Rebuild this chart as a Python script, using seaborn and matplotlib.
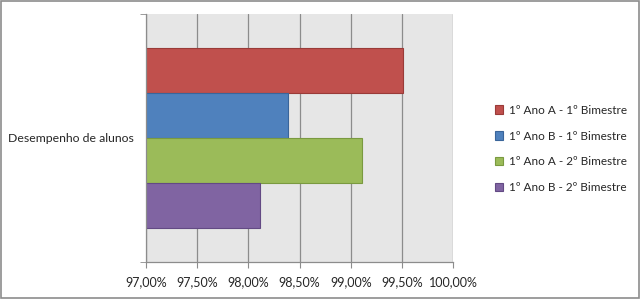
import matplotlib
matplotlib.use("Agg")
import matplotlib.pyplot as plt
import seaborn as sns
import pandas as pd
from matplotlib.ticker import FuncFormatter, FixedLocator
from matplotlib.patches import Rectangle

categories = ["Desempenho de alunos"]
series = ["1º Ano A - 1º Bimestre", "1º Ano B - 1º Bimestre",
          "1º Ano A - 2º Bimestre", "1º Ano B - 2º Bimestre"]
values = [99.51, 98.39, 99.11, 98.11]
colors = ["#C0504D", "#4F81BD", "#9BBB59", "#8064A2"]
edges = ["#9A3B38", "#3A659A", "#7A9A40", "#634A84"]
xticks = [97.0, 97.5, 98.0, 98.5, 99.0, 99.5, 100.0]

df = pd.DataFrame({"cat": categories * len(series), "serie": series, "valor": values})

sns.set_style("white")
plt.rcParams["font.family"] = ["Lato", "DejaVu Sans"]

fig = plt.figure(figsize=(6.4, 2.99), dpi=100)
ax = fig.add_axes([0.228, 0.124, 0.480, 0.829])

sns.barplot(data=df, x="valor", y="cat", hue="serie", hue_order=series,
            palette=colors, saturation=1, orient="h", width=0.73, ax=ax, legend=True)

for patch, ec in zip(ax.patches, edges):
    patch.set_edgecolor(ec)
    patch.set_linewidth(0.8)

ax.set_facecolor("#E6E6E6")
ax.set_xlim(97.0, 100.0)
ax.set_ylim(0.5, -0.5)
ax.xaxis.set_major_locator(FixedLocator(xticks))
ax.xaxis.set_major_formatter(FuncFormatter(lambda v, p: f"{v:.2f}".replace(".", ",") + "%"))
ax.grid(axis="x", color="#8C8C8C", linewidth=0.9)
ax.set_axisbelow(True)
ax.set_xlabel("")
ax.set_ylabel("")

for s in ["top", "right"]:
    ax.spines[s].set_visible(False)
for s in ["left", "bottom"]:
    ax.spines[s].set_color("#8C8C8C")
    ax.spines[s].set_linewidth(0.9)

ax.tick_params(axis="x", direction="out", length=4, color="#8C8C8C", labelsize=9,
               pad=6, bottom=True)
ax.tick_params(axis="y", length=0, labelsize=8.8, pad=8.5)
ax.set_yticks([0.5, -0.5], minor=True)
ax.tick_params(axis="y", which="minor", length=4, color="#8C8C8C", left=True)

leg = ax.legend(loc="center left", bbox_to_anchor=(1.135, 0.456), frameon=False,
                fontsize=8.5, handlelength=0.7, handleheight=0.7, borderaxespad=0,
                borderpad=0, labelspacing=1.25, handletextpad=0.5)
for h, ec in zip(leg.legend_handles, edges):
    h.set_edgecolor(ec)
    h.set_linewidth(0.8)

fig.patches.append(Rectangle((0.001, 0.002), 0.997, 0.995, transform=fig.transFigure,
                             fill=False, edgecolor="#8C8C8C", linewidth=1.2))

fig.savefig("out.png", dpi=100)
